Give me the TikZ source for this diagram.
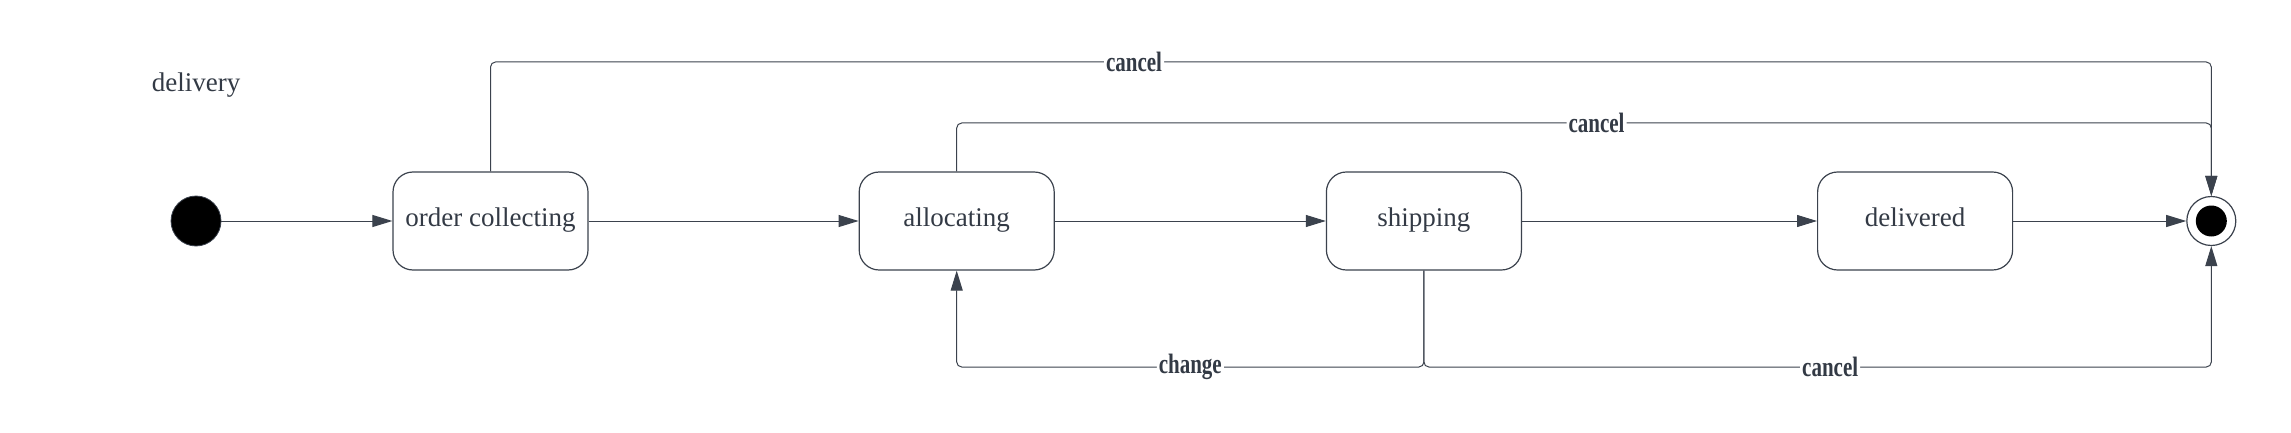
\documentclass[tikz,border=0pt]{standalone}
\usepackage{fontspec}
\setmainfont{Liberation Serif}
\newfontfamily\lblfont[FakeStretch=0.75]{Liberation Serif}
\usepackage{xcolor}
\usetikzlibrary{arrows.meta, positioning}

\definecolor{linecol}{HTML}{3B424D}
\definecolor{textcol}{HTML}{333A45}

\begin{document}
\begin{tikzpicture}[
    x=1pt, y=1pt,
    font=\fontsize{13.5pt}{16pt}\selectfont,
    state/.style={rectangle, rounded corners=10pt, draw=linecol, line width=0.6pt, text=textcol, minimum width=97.5pt, minimum height=49pt, text height=0.8em, text depth=0.22em, text centered},
    startstate/.style={circle, fill=black, draw=linecol, line width=0.4pt, minimum size=25pt, inner sep=0pt},
    endstate/.style={circle, draw=linecol, line width=0.6pt, fill=white, minimum size=24.5pt, inner sep=0pt},
    enddot/.style={circle, fill=black, minimum size=15.5pt, inner sep=0pt},
    lbl/.style={fill=white, inner sep=1pt, text=textcol, font=\fontsize{14pt}{16pt}\lblfont\bfseries},
    arrow/.style={draw=linecol, line width=0.5pt, rounded corners=2.5pt, -{Triangle[length=10pt,width=6pt]}}
]
    \useasboundingbox (0,0) rectangle (1145.5,-216.5);

    % Title
    \node[text=textcol] (title) at (98,-42.5) {delivery};

    % Start
    \node[startstate] (init) at (98,-110.5) {};

    % States
    \node[state, right=85.5pt of init] (oc) {order collecting};
    \node[state, right=135pt of oc] (alloc) {allocating};
    \node[state, right=135.5pt of alloc] (ship) {shipping};
    \node[state, right=147.5pt of ship] (deliv) {delivered};

    % End
    \node[endstate, right=86.5pt of deliv] (final) {};
    \node[enddot] (finaldot) at (final) {};

    % Rows for the long connectors
    \coordinate (toprow) at (0,-31);
    \coordinate (midrow) at (0,-61.5);
    \coordinate (lowrow) at (0,-183.5);

    % Arrows
    \draw[arrow] (init) -- (oc);
    \draw[arrow] (oc) -- (alloc);
    \draw[arrow] (alloc) -- (ship);
    \draw[arrow] (ship) -- (deliv);
    \draw[arrow] (deliv) -- (final);

    % Cancel and change
    \draw[arrow] (oc.north) -- (oc.north |- toprow) -- node[lbl, pos=0.374] (cancel1) {cancel} (final.north |- toprow) -- (final.north);
    \draw[arrow] (alloc.north) -- (alloc.north |- midrow) -- node[lbl, pos=0.51] (cancel2) {cancel} (final.north |- midrow) -- (final.north);
    \draw[arrow] (ship.south) -- (ship.south |- lowrow) -- node[lbl] (change) {change} (alloc.south |- lowrow) -- (alloc.south);
    \draw[arrow] (ship.south) -- (ship.south |- lowrow) -- node[lbl, pos=0.516] (cancel3) {cancel} (final.south |- lowrow) -- (final.south);

\end{tikzpicture}
\end{document}
